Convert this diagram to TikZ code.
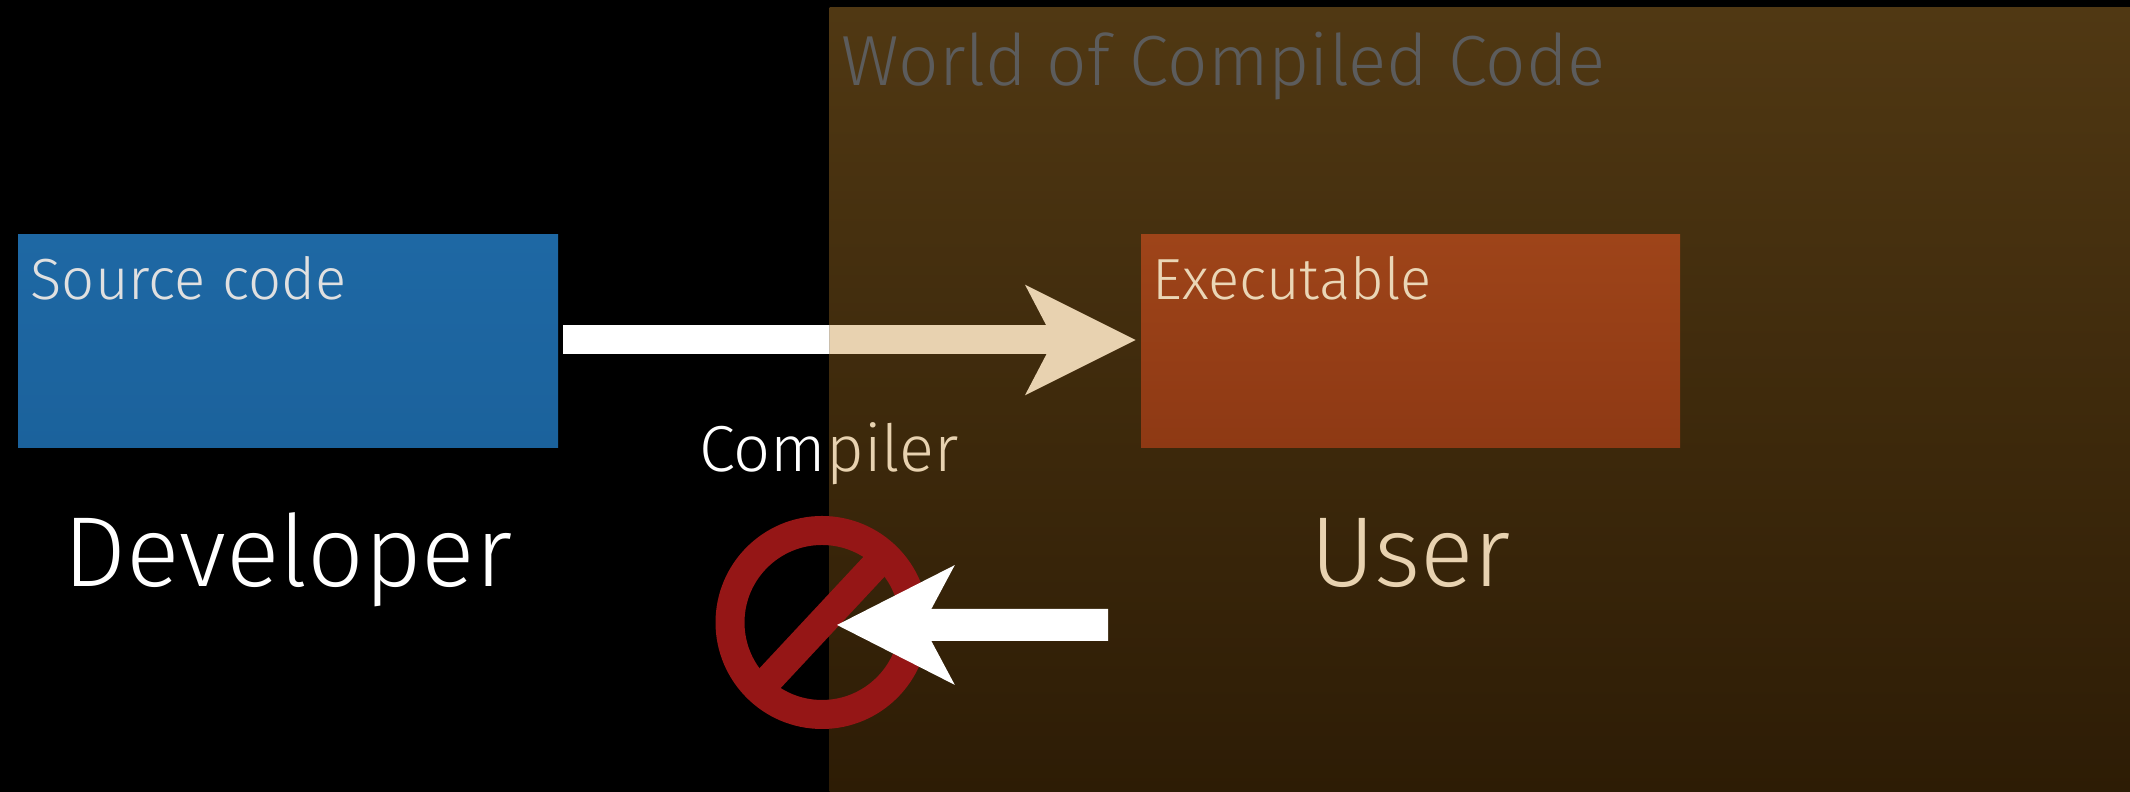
\documentclass[tikz,border=0pt]{standalone}
\usepackage{fontspec}
\setmainfont{Fira Sans}[UprightFont=* Light]
\usetikzlibrary{arrows.meta}
\definecolor{cream}{HTML}{E8D2B0}
\definecolor{banred}{HTML}{951616}
\definecolor{worldtop}{HTML}{503813}
\definecolor{worldbot}{HTML}{2D1C05}
\definecolor{worldtext}{HTML}{5C5C5C}
\definecolor{sourcetop}{HTML}{1E68A4}
\definecolor{sourcebot}{HTML}{1B629C}
\definecolor{exectop}{HTML}{9E4419}
\definecolor{execbot}{HTML}{8E3914}
\tikzset{
	panel/.style={inner sep=0pt, outer sep=0pt},
	biglabel/.style={anchor=base, inner sep=0pt, font=\fontsize{28.3}{32}\selectfont},
	midlabel/.style={anchor=base, inner sep=0pt, font=\fontsize{18.5}{22}\selectfont},
	boxlabel/.style={anchor=base west, inner sep=0pt, font=\fontsize{16.5}{20}\selectfont},
	bigarrow/.style={line width=.29cm, -{Stealth[length=1.09cm,width=1.07cm,inset=.27cm]}},
	backarrow/.style={line width=.32cm, -{Stealth[length=1.16cm,width=1.16cm,inset=.30cm]}}
}
\begin{document}
\begin{tikzpicture}
\useasboundingbox (0,0) rectangle (21.3,7.92);
\fill[black] (0,0) rectangle (21.3,7.92);
\node[panel, minimum width=13.005cm, minimum height=7.84cm, top color=worldtop, bottom color=worldbot] (world) at (14.7975,3.92) {};
\node[anchor=base west, inner sep=0pt, text=worldtext, font=\fontsize{20.2}{24}\selectfont] (worldlabel) at ([xshift=.115cm,yshift=-.78cm]world.north west) {World of Compiled Code};
% the two boxes
\node[panel, minimum width=5.4cm, minimum height=2.13cm, top color=sourcetop, bottom color=sourcebot] (source) at (2.88,4.505) {};
\node[panel, minimum width=5.39cm, minimum height=2.13cm, top color=exectop, bottom color=execbot] (exec) at (14.105,4.505) {};
\node[boxlabel, text=black!12!white] (sourcelabel) at ([xshift=.12cm,yshift=-.65cm]source.north west) {Source code};
\node[boxlabel, text=cream!92!white] (execlabel) at ([xshift=.11cm,yshift=-.65cm]exec.north west) {Executable};
\node[biglabel, text=white] (developer) at ([yshift=-1.39cm]source.south) {Developer};
\node[biglabel, text=cream] (user) at ([yshift=-1.39cm]exec.south) {User};
% the no entry sign
\node[circle, draw=banred, line width=.29cm, minimum size=1.84cm, inner sep=0pt, outer sep=0pt] (ban) at (8.22,1.695) {};
\draw[banred, line width=.29cm] (ban.227) -- (ban.47);
\coordinate (usertail) at (11.08,1.67);
\draw[backarrow, white, shorten >=.147cm] (usertail) -- ([yshift=-.025cm]ban.center);
% white on the black side, cream on the other
\foreach \paint/\xa/\xb in {white/0/8.295,cream/8.295/21.3}{
	\begin{scope}
	\clip (\xa,0) rectangle (\xb,7.92);
	\node[midlabel, text=\paint] (compiler-\paint) at (8.29,3.2) {Compiler};
	\draw[bigarrow, color=\paint, shorten <=.05cm, shorten >=.05cm] ([yshift=.015cm]source.east) -- ([yshift=.015cm]exec.west);
	\end{scope}
	}
\end{tikzpicture}
\end{document}
